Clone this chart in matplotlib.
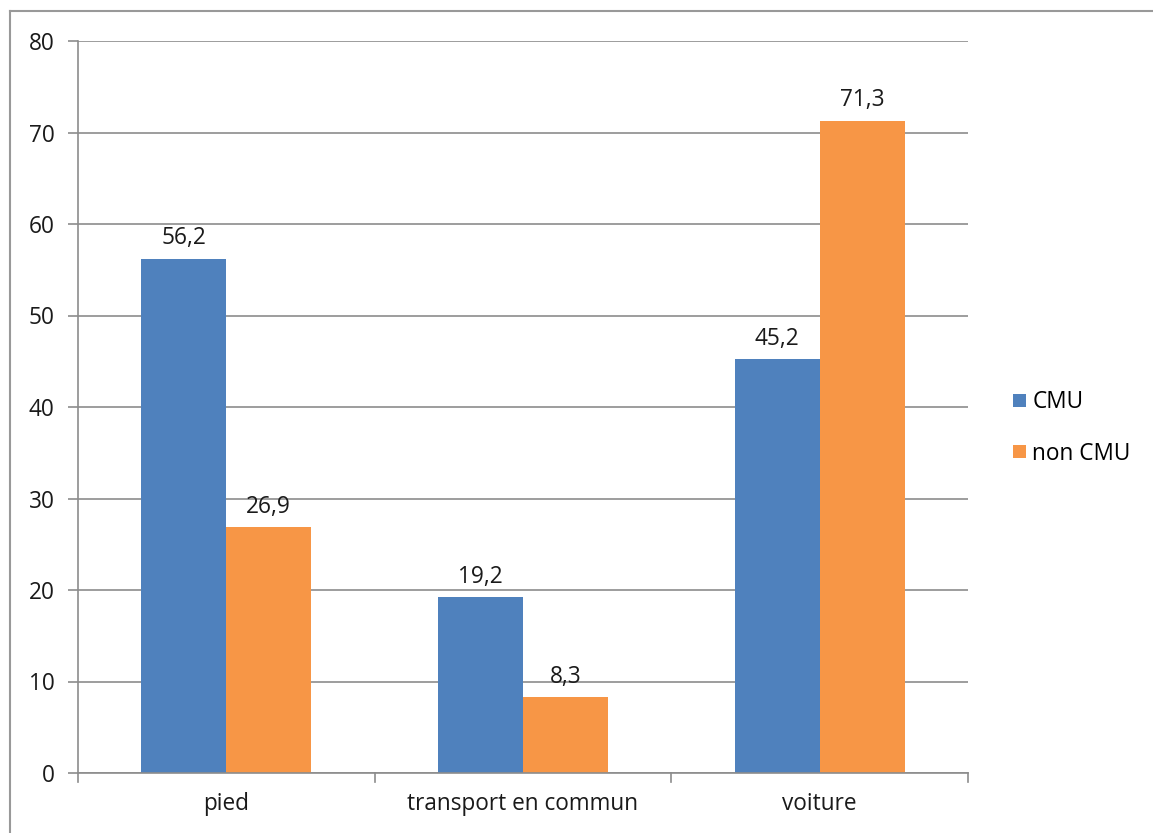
import matplotlib
matplotlib.use("Agg")
import matplotlib.pyplot as plt
import numpy as np
from matplotlib.lines import Line2D

categories = ["pied", "transport en commun", "voiture"]
cmu = [56.2, 19.2, 45.2]
non_cmu = [26.9, 8.3, 71.3]
series_names = ["CMU", "non CMU"]
yticks = [0, 10, 20, 30, 40, 50, 60, 70, 80]

W, H = 1153, 833
fig = plt.figure(figsize=(W / 100, H / 100), dpi=100)
plt.rcParams['font.family'] = ['Open Sans', 'DejaVu Sans']

ax = fig.add_axes([78 / W, 1 - 773 / H, (968 - 78) / W, (773 - 41) / H])

blue = "#4F81BD"
orange = "#F79646"
grid_c = "#8C8C8C"
txt_c = "#1a1a1a"
fs = 16.3

x = np.arange(len(categories))
bw = 0.286
b1 = ax.bar(x - bw / 2, cmu, bw, color=blue, label=series_names[0], zorder=3)
b2 = ax.bar(x + bw / 2, non_cmu, bw, color=orange, label=series_names[1], zorder=3)

for bars, vals in ((b1, cmu), (b2, non_cmu)):
    for r, v in zip(bars, vals):
        ax.annotate(f"{v:.1f}".replace(".", ","), (r.get_x() + r.get_width() / 2, v),
                    xytext=(0, 6), textcoords="offset points", ha="center", va="bottom",
                    fontsize=fs, color=txt_c)

ax.set_xlim(-0.5, 2.5)
ax.set_ylim(0, 80)
ax.set_yticks(yticks)
ax.set_yticklabels([str(t) for t in yticks], fontsize=fs, color=txt_c)
ax.yaxis.grid(True, color=grid_c, linewidth=1.2, zorder=0)
ax.tick_params(axis='y', length=7, color=grid_c, width=1.2, pad=10)

ax.set_xticks(x)
ax.set_xticklabels(categories, fontsize=fs, color=txt_c)
ax.tick_params(axis='x', length=0, pad=14)
for b in [-0.5, 0.5, 1.5, 2.5]:
    ax.plot([b, b], [0, -1], color=grid_c, lw=1.2, clip_on=False, zorder=4)

for s in ["top", "right"]:
    ax.spines[s].set_visible(False)
ax.spines["left"].set_color(grid_c)
ax.spines["left"].set_linewidth(1.2)
ax.spines["bottom"].set_color(grid_c)
ax.spines["bottom"].set_linewidth(1.2)
ax.spines["bottom"].set_zorder(5)

ax.legend(loc="center left", bbox_to_anchor=(1004 / W, 1 - 428 / H), bbox_transform=fig.transFigure,
          frameon=False, fontsize=fs, handlelength=0.55, handleheight=0.55,
          handletextpad=0.3, labelspacing=1.2, borderaxespad=0)

# outer border
fig.add_artist(Line2D([10 / W, 10 / W], [0, 1 - 11 / H], color="#999999", lw=1.5,
                      transform=fig.transFigure))
fig.add_artist(Line2D([10 / W, 1], [1 - 11 / H, 1 - 11 / H], color="#999999", lw=1.5,
                      transform=fig.transFigure))

fig.savefig("out.png", dpi=100)
